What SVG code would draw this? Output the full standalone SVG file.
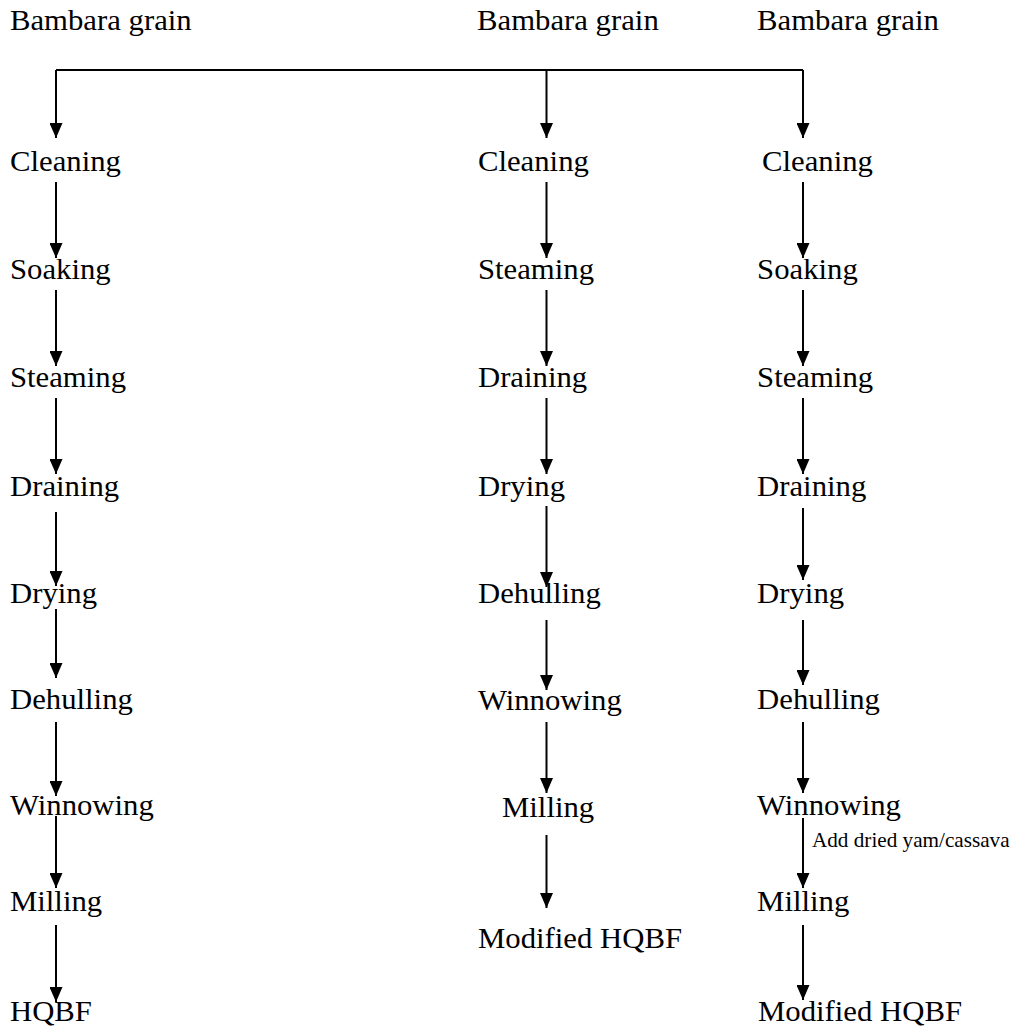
<svg xmlns="http://www.w3.org/2000/svg" width="1033" height="1029" viewBox="0 0 1033 1029">
<defs>
<marker id="ah" markerWidth="15" markerHeight="13" refX="15" refY="6.5" orient="auto" markerUnits="userSpaceOnUse" viewBox="0 0 15 13">
<path d="M0,0 L15,6.5 L0,13 Z" fill="#000"/>
</marker>
<style>
text{font-family:"Liberation Serif","Times New Roman",serif;font-size:29px;fill:#000}
.s{font-size:20px}
.c line,.c path{stroke:#000;stroke-width:2;fill:none}
.c line{marker-end:url(#ah)}
</style>
</defs>
<rect width="1033" height="1029" fill="#fff"/>
<g class="c" id="connectors">
<path d="M56,70 H803"/>
<line x1="56" y1="70" x2="56" y2="138"/>
<line x1="546.5" y1="70" x2="546.5" y2="138"/>
<line x1="803" y1="70" x2="803" y2="138"/>
<line x1="56" y1="182" x2="56" y2="258"/>
<line x1="56" y1="290" x2="56" y2="366"/>
<line x1="56" y1="398" x2="56" y2="474"/>
<line x1="56" y1="512" x2="56" y2="586"/>
<line x1="56" y1="609" x2="56" y2="678"/>
<line x1="56" y1="722" x2="56" y2="796"/>
<line x1="56" y1="816" x2="56" y2="888"/>
<line x1="56" y1="925" x2="56" y2="1002"/>
<line x1="546.5" y1="182" x2="546.5" y2="258"/>
<line x1="546.5" y1="290" x2="546.5" y2="366"/>
<line x1="546.5" y1="398" x2="546.5" y2="474"/>
<line x1="546.5" y1="506" x2="546.5" y2="587"/>
<line x1="546.5" y1="620" x2="546.5" y2="690"/>
<line x1="546.5" y1="722" x2="546.5" y2="793"/>
<line x1="546.5" y1="835" x2="546.5" y2="908"/>
<line x1="803" y1="182" x2="803" y2="258"/>
<line x1="803" y1="290" x2="803" y2="366"/>
<line x1="803" y1="398" x2="803" y2="474"/>
<line x1="803" y1="508" x2="803" y2="580"/>
<line x1="803" y1="620" x2="803" y2="685"/>
<line x1="803" y1="722" x2="803" y2="793"/>
<line x1="803" y1="818" x2="803" y2="888"/>
<line x1="803" y1="925" x2="803" y2="1000"/>
</g>
<g transform="scale(1.06 1)">
<g id="src1"><text x="9.4" y="30">Bambara grain</text></g>
<g id="src2"><text x="450" y="30">Bambara grain</text></g>
<g id="src3"><text x="714.2" y="30">Bambara grain</text></g>
<g id="a1"><text x="9.4" y="171">Cleaning</text></g>
<g id="a2"><text x="9.4" y="279">Soaking</text></g>
<g id="a3"><text x="9.4" y="387">Steaming</text></g>
<g id="a4"><text x="9.4" y="496">Draining</text></g>
<g id="a5"><text x="9.4" y="603">Drying</text></g>
<g id="a6"><text x="9.4" y="709">Dehulling</text></g>
<g id="a7"><text x="9.4" y="815">Winnowing</text></g>
<g id="a8"><text x="9.4" y="911">Milling</text></g>
<g id="a9"><text x="9.4" y="1021">HQBF</text></g>
<g id="b1"><text x="450.9" y="171">Cleaning</text></g>
<g id="b2"><text x="450.9" y="279">Steaming</text></g>
<g id="b3"><text x="450.9" y="387">Draining</text></g>
<g id="b4"><text x="450.9" y="496">Drying</text></g>
<g id="b5"><text x="450.9" y="603">Dehulling</text></g>
<g id="b6"><text x="450.9" y="710">Winnowing</text></g>
<g id="b7"><text x="473.6" y="817">Milling</text></g>
<g id="b8"><text x="450.9" y="948">Modified HQBF</text></g>
<g id="c1"><text x="718.9" y="171">Cleaning</text></g>
<g id="c2"><text x="714.2" y="279">Soaking</text></g>
<g id="c3"><text x="714.2" y="387">Steaming</text></g>
<g id="c4"><text x="714.2" y="496">Draining</text></g>
<g id="c5"><text x="714.2" y="603">Drying</text></g>
<g id="c6"><text x="714.2" y="709">Dehulling</text></g>
<g id="c7"><text x="714.2" y="815">Winnowing</text></g>
<g id="c7n"><text class="s" x="766" y="847">Add dried yam/cassava</text></g>
<g id="c8"><text x="714.2" y="911">Milling</text></g>
<g id="c9"><text x="715.1" y="1021">Modified HQBF</text></g>
</g>
</svg>
